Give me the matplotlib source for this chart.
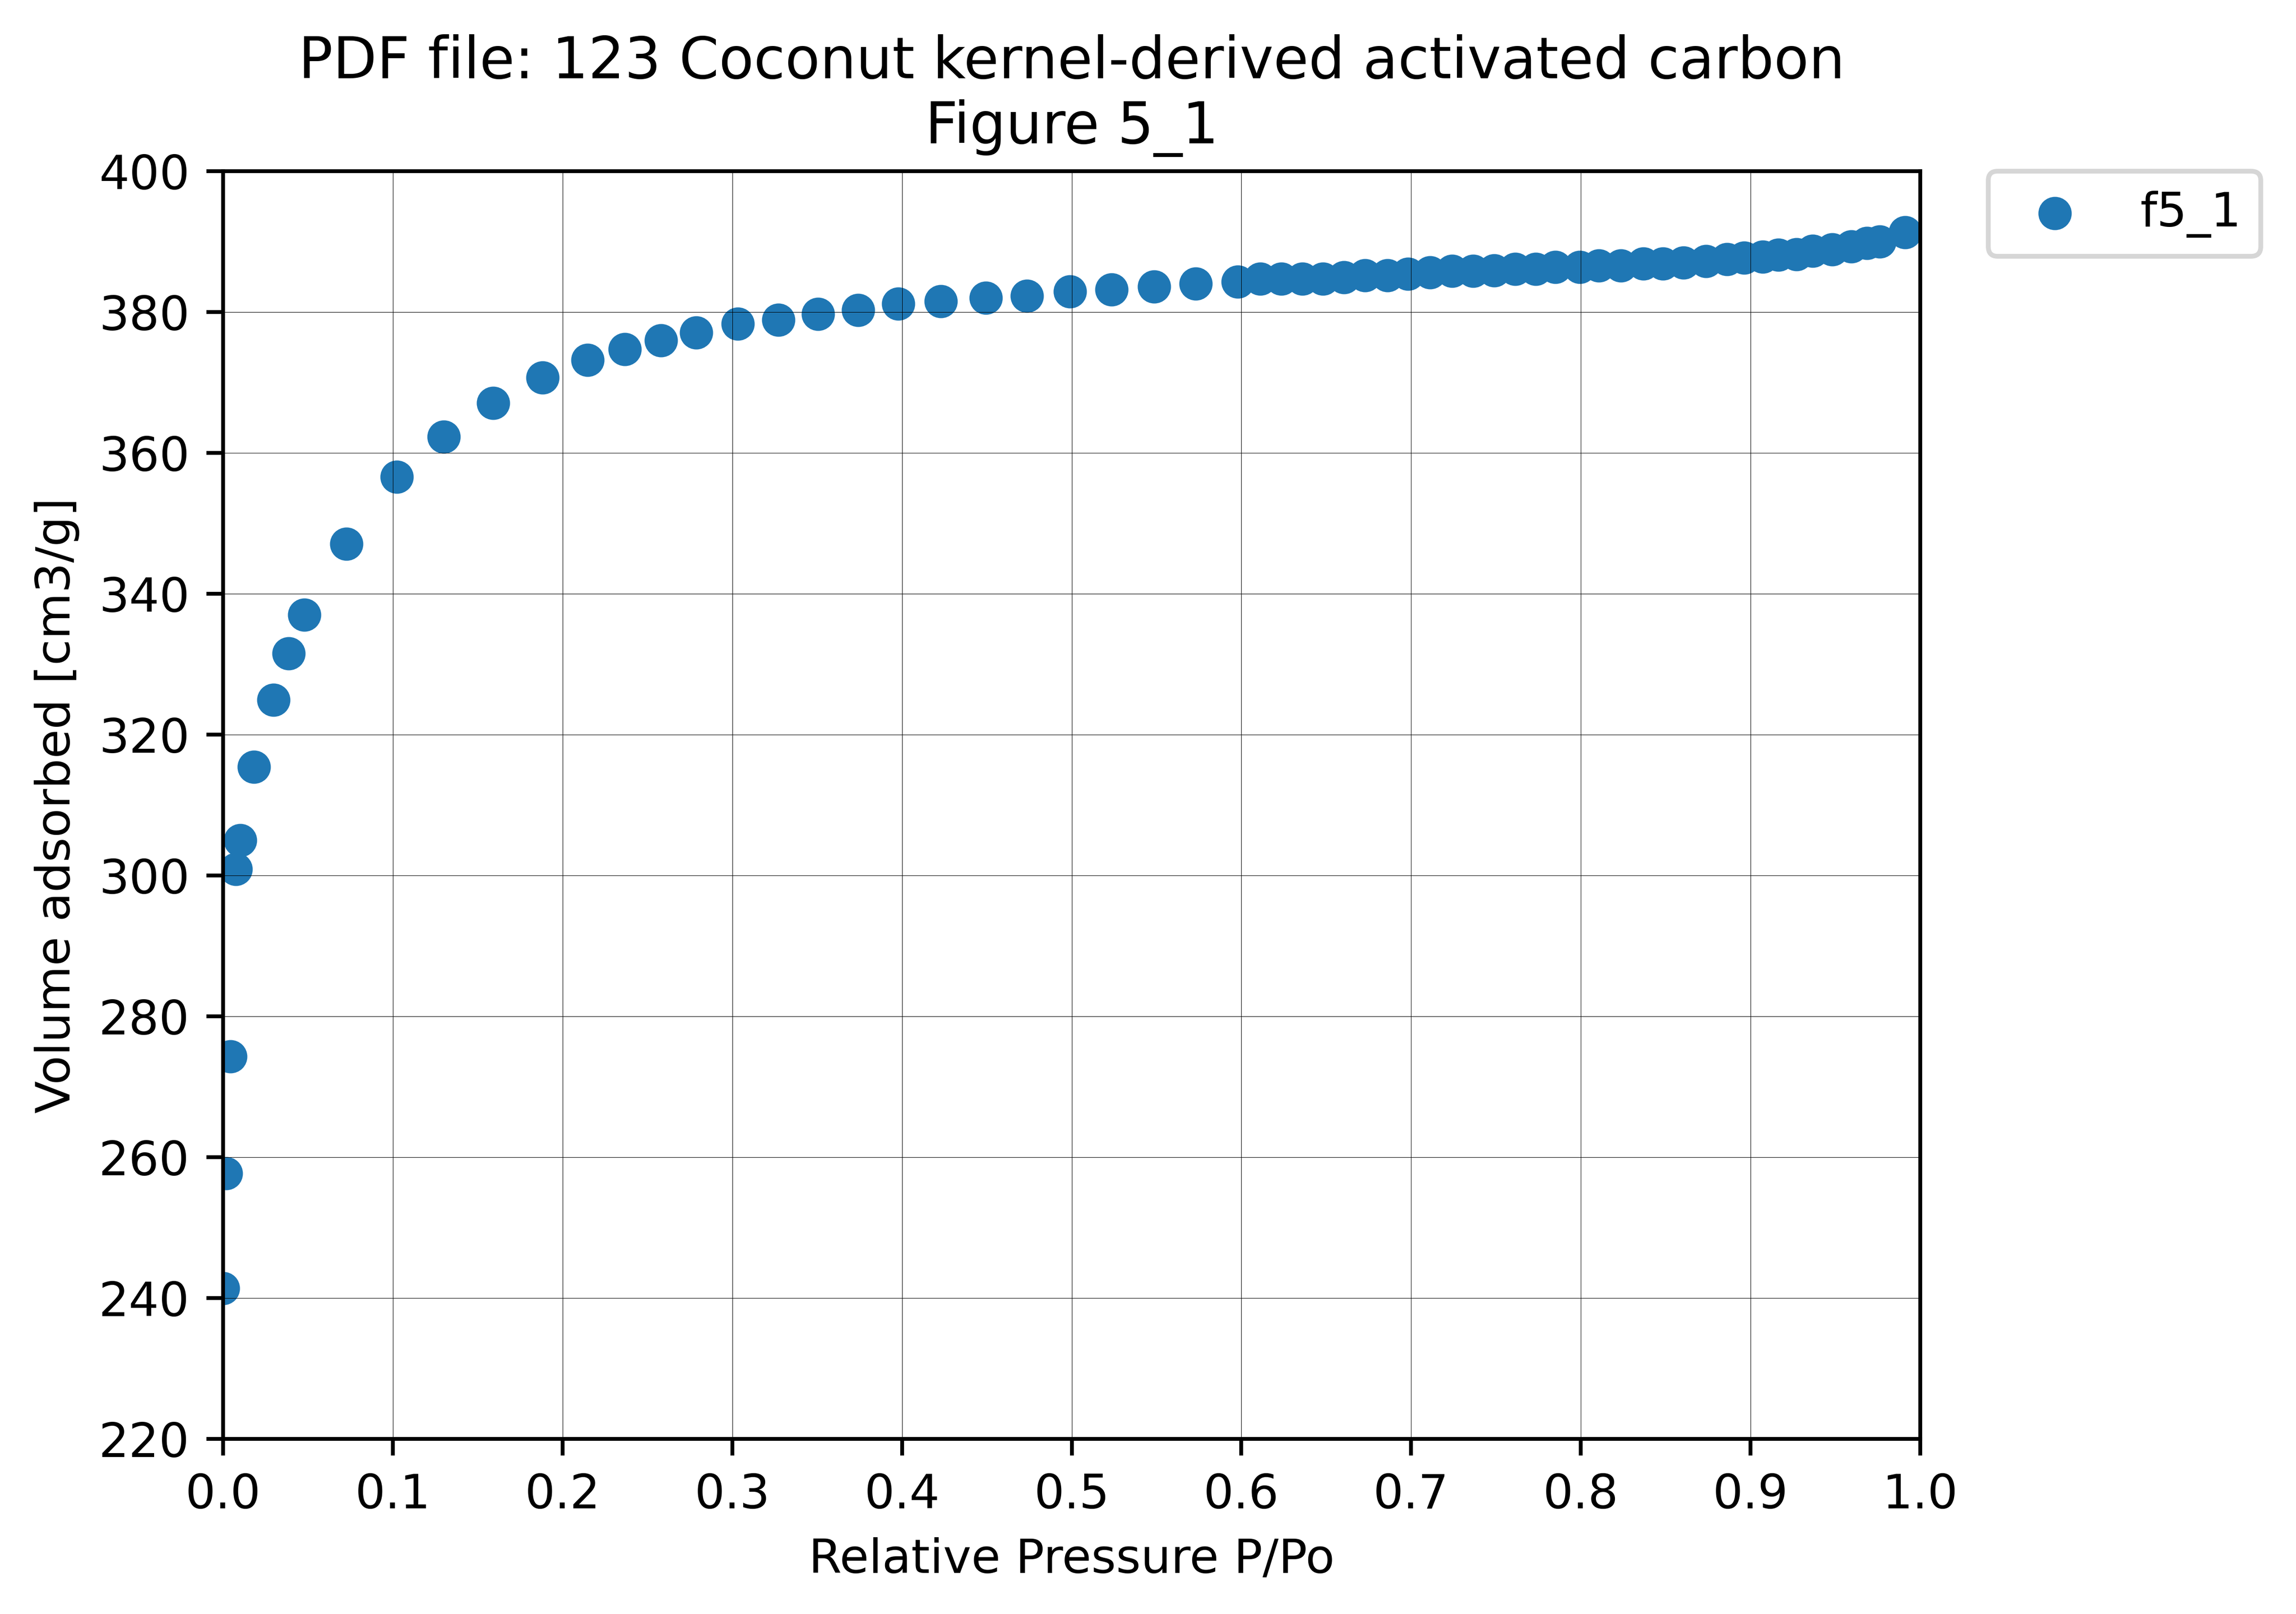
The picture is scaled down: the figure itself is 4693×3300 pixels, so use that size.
import matplotlib

matplotlib.use("Agg")
import matplotlib.pyplot as plt

# Isotherm points
p_rel = [
    0.0001, 0.0017, 0.0043, 0.0076, 0.0101, 0.0182, 0.0298, 0.0387, 0.0479,
    0.0725, 0.1024, 0.1300, 0.1591, 0.1883, 0.2148, 0.2367, 0.2579, 0.2787,
    0.3033, 0.3272, 0.3506, 0.3741, 0.3979, 0.4229, 0.4494, 0.4736, 0.4989,
    0.5235, 0.5485, 0.5731, 0.5980, 0.6112, 0.6236, 0.6359, 0.6481, 0.6603,
    0.6729, 0.6862, 0.6982, 0.7111, 0.7242, 0.7365, 0.7488, 0.7614, 0.7735,
    0.7850, 0.7993, 0.8106, 0.8237, 0.8367, 0.8483, 0.8604, 0.8736, 0.8860,
    0.8963, 0.9072, 0.9165, 0.9272, 0.9366, 0.9480, 0.9593, 0.9686, 0.9761,
    0.9911,
]
vol_ads = [
    241.4, 257.7, 274.3, 300.9, 305.0, 315.4, 324.9, 331.5, 337.0,
    347.1, 356.6, 362.3, 367.1, 370.7, 373.2, 374.7, 376.0, 377.1,
    378.3, 378.9, 379.7, 380.3, 381.2, 381.5, 382.0, 382.3, 382.9,
    383.2, 383.6, 384.0, 384.3, 384.7, 384.7, 384.7, 384.7, 384.9,
    385.2, 385.2, 385.4, 385.6, 385.8, 385.8, 385.9, 386.1, 386.1,
    386.4, 386.4, 386.6, 386.6, 386.9, 386.9, 387.0, 387.25, 387.5,
    387.7, 387.85, 388.1, 388.2, 388.7, 388.9, 389.3, 389.8, 390.0,
    391.3,
]
series_label = "f5_1"
title = "PDF file: 123 Coconut kernel-derived activated carbon\nFigure 5_1"

x_ticks = [0.0, 0.1, 0.2, 0.3, 0.4, 0.5, 0.6, 0.7, 0.8, 0.9, 1.0]
y_ticks = [220, 240, 260, 280, 300, 320, 340, 360, 380, 400]

DPI = 700
fig = plt.figure(figsize=(4693 / DPI, 3301 / DPI), dpi=DPI)
ax = fig.add_axes([456 / 4693, 358 / 3301, 3469 / 4693, 2592 / 3301])

ax.scatter(p_rel, vol_ads, label=series_label)

ax.set_xlim(0, 1)
ax.set_ylim(220, 400)
ax.set_xticks(x_ticks)
ax.set_yticks(y_ticks)
ax.set_xlabel("Relative Pressure P/Po")
ax.set_ylabel("Volume adsorbed [cm3/g]")
ax.set_title(title)
ax.grid(True, color="black", linewidth=0.1)
ax.legend(bbox_to_anchor=(1.04, 1), loc="upper left", borderaxespad=0)

fig.savefig("out.png", dpi=DPI)
